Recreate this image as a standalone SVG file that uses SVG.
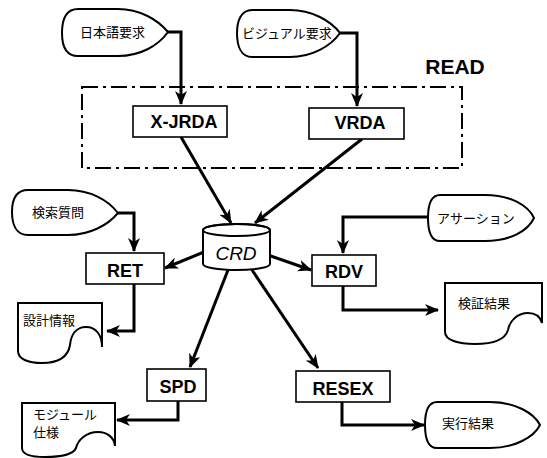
<svg xmlns="http://www.w3.org/2000/svg" width="547" height="458" viewBox="0 0 547 458">
<style>
.box{fill:#fff;stroke:#000;stroke-width:1.6}
.shp{fill:#fff;stroke:#000;stroke-width:2}
.lbl{font-family:"Liberation Sans",Arial,sans-serif;font-weight:bold;font-size:18px;text-anchor:middle;fill:#000}
.jp{font-family:"Noto Sans CJK JP","Noto Sans",sans-serif;font-size:13px;fill:#000}
.conn{fill:none;stroke:#000;stroke-width:3;stroke-linejoin:miter}
</style>
<defs>
<marker id="ah" markerUnits="userSpaceOnUse" markerWidth="14" markerHeight="12" refX="13" refY="6" orient="auto">
<path d="M0,0 L14,6 L0,12 L4,6 Z" fill="#000"/>
</marker>
</defs>
<rect width="547" height="458" fill="#fff"/>

<g id="read-group">
<rect x="82" y="87" width="380" height="81" fill="none" stroke="#000" stroke-width="2" stroke-dasharray="16 5 3 5"/>
<text x="455" y="74" style="font-family:'Liberation Sans',Arial,sans-serif;font-weight:bold;font-size:21px;text-anchor:middle">READ</text>
</g>

<g id="connectors">
<path class="conn" d="M167,32 H181 V104" marker-end="url(#ah)"/>
<path class="conn" d="M340,33 H357 V106" marker-end="url(#ah)"/>
<path class="conn" d="M181,137 L231,223" marker-end="url(#ah)"/>
<path class="conn" d="M362,139 L255,223" marker-end="url(#ah)"/>
<path class="conn" d="M118,213 H134 V251" marker-end="url(#ah)"/>
<path class="conn" d="M204,252 L165,268" marker-end="url(#ah)"/>
<path class="conn" d="M428,217 H343 V253" marker-end="url(#ah)"/>
<path class="conn" d="M268,255 L311,270" marker-end="url(#ah)"/>
<path class="conn" d="M134,284 V331 H107" marker-end="url(#ah)"/>
<path class="conn" d="M343,286 V310 H438" marker-end="url(#ah)"/>
<path class="conn" d="M228,270 L190,367" marker-end="url(#ah)"/>
<path class="conn" d="M252,270 L318,368" marker-end="url(#ah)"/>
<path class="conn" d="M178,401 V420 H117" marker-end="url(#ah)"/>
<path class="conn" d="M342,402 V425 H424" marker-end="url(#ah)"/>
</g>

<g id="req-jp">
<path class="shp" d="M78,9 H118 C140,9 158,20 168,32 C158,46 140,56 118,56 H78 C66,56 62,46 62,33 C62,20 66,9 78,9 Z"/>
<text class="jp" x="80" y="37" font-size="12">日本語要求</text>
</g>

<g id="req-visual">
<path class="shp" d="M252,10 H290 C312,10 331,21 340,33 C331,46 312,57 290,57 H252 C241,57 237,46 237,33 C237,21 241,10 252,10 Z"/>
<text class="jp" x="242" y="38">ビジュアル要求</text>
</g>

<g id="X-JRDA">
<rect class="box" x="133" y="106" width="94" height="31"/>
<text class="lbl" x="184" y="128">X-JRDA</text>
</g>

<g id="VRDA">
<rect class="box" x="309" y="108" width="95" height="31"/>
<text class="lbl" x="360" y="129">VRDA</text>
</g>

<g id="CRD">
<path class="shp" d="M203,230 V264 A33.5,6 0 0 0 270,264 V230 A33.5,6 0 0 0 203,230 Z"/>
<ellipse cx="236.5" cy="230" rx="33.5" ry="6" fill="none" stroke="#000" stroke-width="2"/>
<text x="236" y="260" style="font-family:'Liberation Sans',Arial,sans-serif;font-style:italic;font-size:19px;text-anchor:middle">CRD</text>
</g>

<g id="query">
<path class="shp" d="M28,190 H68 C90,190 108,200 118,213 C108,225 90,235 68,235 H28 C16,235 12,224 12,212 C12,200 16,190 28,190 Z"/>
<text class="jp" x="32" y="217">検索質問</text>
</g>

<g id="RET">
<rect class="box" x="86" y="253" width="78" height="31"/>
<text class="lbl" x="125" y="277">RET</text>
</g>

<g id="assertion">
<path class="shp" d="M440,195 H485 C510,195 528,205 534,218 C528,231 510,241 485,241 H440 C431,241 428,230 428,218 C428,206 431,195 440,195 Z"/>
<text class="jp" x="437" y="223" font-size="14">アサーション</text>
</g>

<g id="RDV">
<rect class="box" x="312" y="255" width="64" height="31"/>
<text class="lbl" x="344" y="278">RDV</text>
</g>

<g id="design-info">
<path class="shp" d="M18,303 H102 V347 C102,335 96,327 86,327 C76,327 71,335 70,345 C68,357 58,363 42,363 C28,363 18,359 18,351 Z"/>
<text class="jp" x="23" y="325" font-size="13.5">設計情報</text>
</g>

<g id="verify-result">
<path class="shp" d="M445,283 H542 V323 C540,316 535,313 528,313 C518,313 510,320 508,330 C505,340 492,344 475,344 C458,344 445,340 445,332 Z"/>
<text class="jp" x="458" y="308">検証結果</text>
</g>

<g id="SPD">
<rect class="box" x="147" y="369" width="59" height="32"/>
<text class="lbl" x="178" y="393">SPD</text>
</g>

<g id="RESEX">
<rect class="box" x="296" y="371" width="94" height="31"/>
<text class="lbl" x="343" y="395">RESEX</text>
</g>

<g id="module-spec">
<path class="shp" d="M22,403 H115 V446 C114,437 107,432 98,432 C86,432 78,440 76,448 C73,455 60,457 45,457 C30,457 22,454 22,448 Z"/>
<text class="jp" x="33" y="419" font-size="12">モジュール</text>
<text class="jp" x="33" y="437" font-size="12">仕様</text>
</g>

<g id="exec-result">
<path class="shp" d="M437,402 H490 C515,402 534,413 540,425 C534,437 515,448 490,448 H437 C428,448 425,437 425,425 C425,413 428,402 437,402 Z"/>
<text class="jp" x="442" y="428">実行結果</text>
</g>
</svg>
